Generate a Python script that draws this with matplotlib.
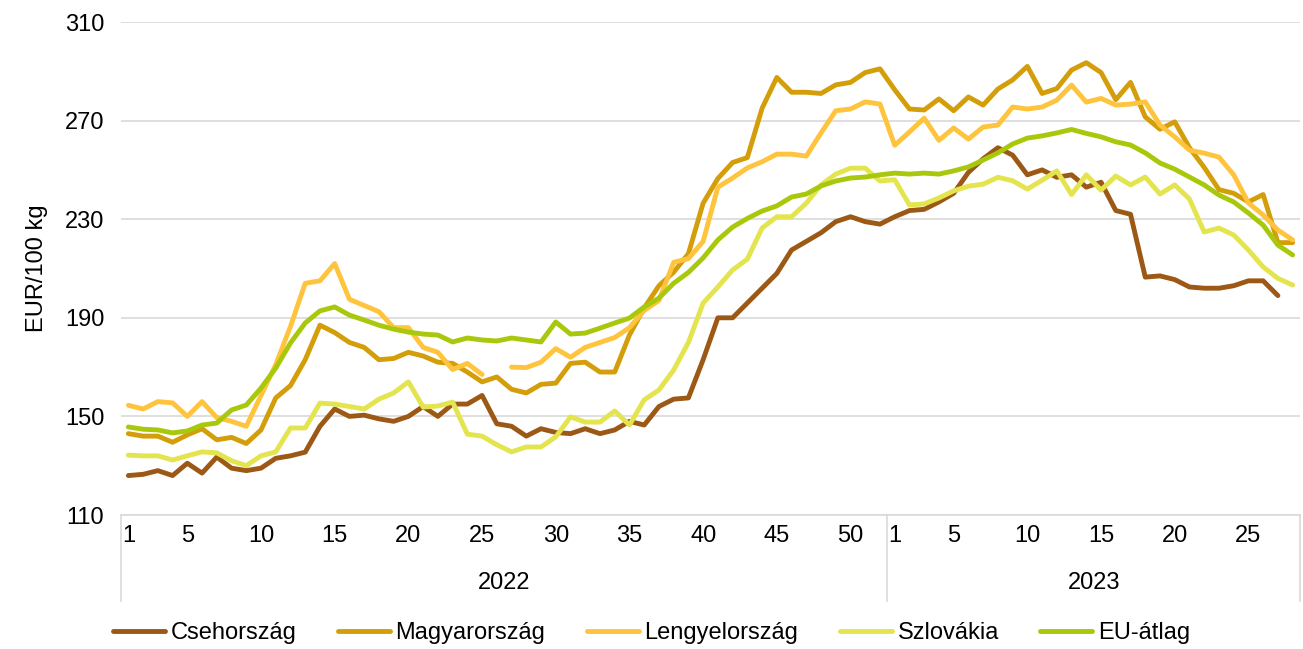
import numpy as np
import matplotlib
matplotlib.use('Agg')
import matplotlib.pyplot as plt

plt.rcParams['font.family'] = ['Liberation Sans', 'DejaVu Sans']

# Hetek: 2022 (1-52), 2023 (1-28)
weeks_2022 = list(range(1, 53))
weeks_2023 = list(range(1, 29))
years = ['2022', '2023']
shown_weeks = [1, 5, 10, 15, 20, 25, 30, 35, 40, 45, 50]

nan = np.nan
cseh = [126, 126.5, 128, 126, 131, 127, 133.5, 129, 128, 129, 133, 134, 135.5, 146, 153, 150, 150.5, 149, 148, 150,
        154, 150, 155, 155, 158.5, 147, 146, 142, 145, 143.5, 143, 145, 143, 144.5, 148, 146.5, 154, 157, 157.5, 173,
        190, 190, 196, 202, 208, 217.5, 221, 224.5, 229, 231, 229, 228,
        231, 233.5, 234, 237, 240.5, 249, 254.5, 259, 256, 248, 250, 247, 248, 243, 245, 233.5, 232, 206.5, 207, 205.5,
        202.5, 202, 202, 203, 205, 205, 199, nan]
magyar = [143, 142, 142, 139.5, 142.5, 145, 140.5, 141.5, 139, 144.5, 157.5, 162.5, 173, 187, 184, 180, 178, 173, 173.5, 176,
          174.5, 172, 171.5, 168, 164, 166, 161, 159.5, 163, 163.5, 171.5, 172, 168, 168, 183, 194, 203, 208.5, 216, 236.5,
          246.5, 253, 255, 275, 287.5, 281.5, 281.5, 281, 284.5, 285.5, 289.5, 291,
          282.5, 274.7, 274.3, 278.8, 274, 279.6, 276.3, 282.8, 286.5, 292, 281, 283, 290.5, 293.5, 289.5, 278.5, 285.5, 271.5,
          266.5, 269.5, 259, 251, 242, 240.5, 237, 240, 220.5, 220.5]
lengyel = [154.5, 153, 156, 155.5, 150, 156, 149.5, 148, 146, 158.5, 171, 186.5, 204, 205, 212, 197.5, 195, 192.5, 186, 186,
           178, 176, 169, 171.5, 167, nan, 170, 169.8, 172, 177.5, 174, 178, 180, 182, 186, 193, 197, 212.5, 214, 221,
           243, 246.7, 250.8, 253.3, 256.4, 256.4, 255.6, 265, 274, 274.7, 277.6, 276.7,
           260, 265.4, 271, 262, 267, 262.5, 267.4, 268.2, 275.5, 274.7, 275.5, 278.3, 284.4, 277.5, 279, 276.3, 276.7, 277.6,
           268.2, 263.4, 258, 256.8, 255.2, 248, 236.6, 231.7, 225.6, 221.6]
szlovakia = [134.3, 134, 134, 132.3, 134, 135.6, 135.2, 132, 130, 134, 135.6, 145.3, 145.3, 155.4, 155, 154, 153, 157, 159.5, 164,
             153.8, 154.2, 155.8, 142.8, 142, 138.5, 135.6, 137.6, 137.6, 141.7, 149.8, 147.7, 147.7, 152.2, 146.5, 156.7, 160.7,
             168.8, 180, 196, 202.5, 209.4, 213.8, 226.4, 231, 231, 236.5, 243.9, 248.3, 250.7, 250.7, 245.5,
             246, 235.8, 236.2, 238.6, 241.5, 243.4, 244.2, 247, 245.6, 242.2, 245.8, 249.6, 240, 248, 241.8, 247.5, 243.9,
             247.1, 240.2, 243.9, 238.2, 224.8, 226.4, 223.6, 217.5, 210.6, 206, 203.3]
eu = [145.7, 144.8, 144.5, 143.3, 144.1, 146.5, 147.3, 152.6, 154.6, 161.5, 169.6, 179.8, 187.9, 192.8, 194.4, 191.1, 189.1, 187,
      185.4, 184.2, 183.4, 183, 180.2, 181.8, 181, 180.6, 181.8, 181, 180.2, 188.3, 183.4, 183.8, 185.8, 187.9, 189.9, 194.4,
      198, 204, 208.4, 214.3, 221.6, 226.8, 230.3, 233.3, 235.4, 239, 240.2, 243.5, 245.5, 246.7, 247.1, 248,
      248.7, 248.3, 248.7, 248.3, 249.6, 251.2, 254, 256.9, 260.5, 262.9, 263.8, 265, 266.4, 264.8, 263.4, 261.4, 260.1,
      256.9, 252.8, 250.3, 247.1, 243.9, 239.8, 237, 232.5, 227.6, 219.5, 215.5]

series = [('Csehország', cseh, '#9C5815'),
          ('Magyarország', magyar, '#D39E0A'),
          ('Lengyelország', lengyel, '#FFC43D'),
          ('Szlovákia', szlovakia, '#E3E44E'),
          ('EU-átlag', eu, '#A8C80C')]

n = len(weeks_2022) + len(weeks_2023)
x = np.arange(n)
fs = 17

fig = plt.figure(figsize=(13.03, 6.49), dpi=100)
ax = fig.add_axes([121 / 1303, 1 - 515 / 649, (1300 - 121) / 1303, (515 - 22) / 649])

for name, vals, col in series:
    ax.plot(x, vals, color=col, lw=3.5, label=name, solid_capstyle='round', solid_joinstyle='round')

ax.set_ylim(110, 310)
ax.set_yticks(np.arange(110, 311, 40))
ax.set_xlim(-0.5, n - 0.5)
ax.yaxis.grid(True, color='#D9D9D9', lw=1.2)
ax.set_axisbelow(True)
for s in ['left', 'right', 'top']:
    ax.spines[s].set_visible(False)
ax.spines['bottom'].set_color('#D9D9D9')
ax.spines['bottom'].set_linewidth(1.2)

# kategória-tengely: hetek és évek
tick_pos = []
tick_lab = []
for w in shown_weeks:
    tick_pos.append(weeks_2022.index(w))
    tick_lab.append(str(w))
for w in weeks_2023:
    if w == 1 or w % 5 == 0:
        tick_pos.append(len(weeks_2022) + w - 1)
        tick_lab.append(str(w))
ax.set_xticks(tick_pos)
ax.set_xticklabels(tick_lab, fontsize=fs)
ax.tick_params(axis='x', length=0, pad=7)
ax.tick_params(axis='y', length=0, pad=12, labelsize=fs)

tr = ax.get_xaxis_transform()
for xv in [-0.5, len(weeks_2022) - 0.5, n - 0.5]:
    ax.plot([xv, xv], [0, -0.175], transform=tr, color='#D9D9D9', lw=1.2, clip_on=False)
ax.text((len(weeks_2022) - 1) / 2, -0.138, years[0], transform=tr, ha='center', va='center', fontsize=fs)
ax.text(len(weeks_2022) + (len(weeks_2023) - 1) / 2, -0.138, years[1], transform=tr, ha='center', va='center', fontsize=fs)

ax.set_ylabel('EUR/100 kg', fontsize=fs, labelpad=12)

fig.legend(loc='center', bbox_to_anchor=(0.5, 1 - 633 / 649), ncol=5, frameon=False, fontsize=fs,
           handlelength=2.2, handletextpad=0.25, columnspacing=1.75)

plt.savefig('out.png', dpi=100)
